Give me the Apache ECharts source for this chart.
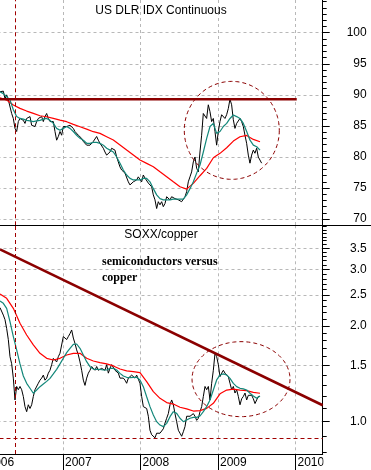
<!DOCTYPE html>
<html><head><meta charset="utf-8">
<script src="https://cdn.jsdelivr.net/npm/echarts@6/dist/echarts.min.js"></script>
<style>html,body{margin:0;padding:0;background:#fff}#c{width:371px;height:470px}</style>
</head><body><div id="c"></div>
<script>
// ---- time frame (decimal years) ----
const axisStart = 2006.0;
const axisEnd = 2010.351;
const dataStart = 2006.187;     // first session shown (early March 2006)
const usdLast = 2009.563;       // last dollar session
const seriesLast = 2009.542;    // last session for the other lines
const years = [2006, 2007, 2008, 2009, 2010];
const usdTicks = [70, 75, 80, 85, 90, 95, 100];
const ratioTicks = [1.0, 1.5, 2.0, 2.5, 3.0, 3.5];

// ---- US dollar index (daily close, sampled) ----
const usdClose = [90.5,90.2,90.6,89.4,90.0,89.2,88.9,87.0,86.2,84.6,
 84.1,85.7,86.2,86.5,85.9,85.4,86.2,85.9,86.5,85.1,
 85.4,84.9,85.7,86.2,85.9,86.5,85.7,86.5,87.0,86.2,
 85.7,85.4,85.7,84.1,82.7,83.3,84.1,83.5,84.9,85.1,
 84.9,84.6,85.1,84.9,84.6,84.1,83.8,83.5,83.3,83.0,
 82.5,82.7,81.9,81.7,81.9,82.2,82.5,82.7,83.3,82.7,
 82.2,81.9,81.4,80.8,80.3,80.6,80.8,81.4,81.7,81.1,
 80.0,79.2,78.4,77.9,78.2,77.4,77.1,76.0,75.5,75.2,
 76.0,76.3,76.3,76.8,76.6,76.0,77.1,76.6,76.8,75.8,
 75.5,75.2,73.9,73.1,71.7,72.8,72.3,72.8,72.0,72.5,
 73.6,73.3,73.1,73.6,73.9,73.3,73.6,73.1,73.3,72.8,
 73.1,73.6,74.4,76.0,76.8,77.6,79.2,80.0,78.2,77.6,
 80.8,83.5,87.0,86.8,86.2,88.4,87.3,85.7,86.2,84.1,
 81.9,84.1,85.7,86.8,86.5,86.2,86.8,87.8,89.3,88.4,
 86.0,84.6,85.4,85.7,86.2,85.7,84.9,83.5,82.2,80.3,
 79.0,80.3,81.1,80.6,81.4,80.0,79.8,79.0];
const usdMAshort = [90.5,90.2,89.7,89.2,87.6,86.5,86.2,86.1,85.9,85.8,
 85.7,85.8,85.9,86.1,86.2,85.9,85.4,84.6,84.3,84.6,
 84.9,84.6,84.1,83.5,83.0,82.7,82.2,82.2,82.35,82.35,
 82.2,81.9,81.4,81.1,80.8,80.0,79.0,77.9,77.1,76.55,
 76.3,76.3,76.3,76.55,76.55,76.0,74.9,73.9,73.3,73.1,
 73.1,73.1,73.2,73.2,73.2,73.2,73.9,74.9,76.0,77.4,
 78.7,80.8,83.0,84.9,85.4,83.8,84.1,84.9,85.4,86.2,
 86.75,86.5,86.2,85.4,84.1,82.7,81.9,81.65,81.1];
const usdMAlong = [89.54,89.16,88.36,87.82,87.39,87.02,86.64,86.48,86.21,85.94,
 85.68,85.25,84.87,84.49,84.07,83.80,83.26,82.72,81.92,81.11,
 80.31,79.50,78.97,78.43,77.62,76.82,76.01,75.21,74.83,75.75,
 76.98,78.16,79.88,80.58,81.49,82.56,83.26,83.47,82.83,82.45];
const usdResistance = 89.3;
const resistanceEnd = 2010.016;

// ---- SOXX / copper ratio ----
const soxxCopper = [2.28,2.27,2.16,2.09,1.96,1.81,1.60,1.52,1.37,1.17,
 1.29,1.26,1.29,1.26,1.20,1.115,1.075,1.13,1.10,1.13,
 1.20,1.26,1.26,1.32,1.35,1.37,1.40,1.35,1.37,1.42,
 1.45,1.51,1.58,1.56,1.54,1.60,1.64,1.64,1.85,1.87,
 1.81,1.85,1.89,1.94,1.83,1.76,1.68,1.62,1.54,1.45,
 1.35,1.30,1.37,1.42,1.45,1.49,1.47,1.45,1.49,1.45,
 1.47,1.47,1.49,1.45,1.51,1.42,1.47,1.51,1.52,1.45,
 1.47,1.42,1.37,1.385,1.37,1.35,1.32,1.37,1.385,1.40,
 1.385,1.37,1.40,1.42,1.32,1.20,1.115,1.13,1.10,1.04,
 0.94,0.91,0.90,0.89,0.92,0.91,0.92,0.93,0.95,0.99,
 1.025,1.06,1.13,1.17,1.13,1.06,1.00,0.94,0.92,0.90,
 0.93,0.965,1.04,1.05,1.04,1.04,1.06,1.04,1.01,1.025,
 1.075,1.115,1.20,1.29,1.26,1.29,1.17,1.32,1.45,1.64,
 1.60,1.51,1.385,1.42,1.45,1.42,1.435,1.385,1.32,1.26,
 1.29,1.23,1.26,1.20,1.13,1.18,1.20,1.23,1.17,1.21,
 1.20,1.21,1.18,1.14,1.17,1.20,1.20];
const soxxMAshort = [2.392,2.352,2.268,2.06,1.849,1.679,1.518,1.391,1.319,1.273,
 1.228,1.257,1.288,1.313,1.338,1.368,1.412,1.460,1.518,1.581,
 1.647,1.699,1.749,1.753,1.699,1.619,1.543,1.488,1.463,1.460,
 1.460,1.453,1.453,1.470,1.470,1.453,1.418,1.391,1.378,1.375,
 1.378,1.378,1.352,1.288,1.198,1.115,1.050,1.000,0.976,0.965,
 0.988,1.037,1.075,1.062,1.025,1.000,1.012,1.025,1.032,1.032,
 1.042,1.075,1.115,1.170,1.257,1.352,1.401,1.412,1.401,1.368,
 1.319,1.288,1.273,1.268,1.257,1.228,1.204,1.184,1.204];
const soxxMAlong = [2.516,2.439,2.268,2.036,1.871,1.741,1.639,1.581,1.562,1.581,
 1.619,1.639,1.639,1.581,1.550,1.532,1.518,1.496,1.463,1.443,
 1.435,1.425,1.335,1.242,1.184,1.148,1.136,1.110,1.097,1.080,
 1.083,1.101,1.142,1.223,1.257,1.265,1.257,1.251,1.236,1.228];
const trendFrom = 3.475, trendTo = 1.126;
const ratioSupport = 0.887;
const markerDate = 2006.385;

// annotation ellipses (data-space bounds)
const usdCircle = {x0: 2008.565, x1: 2009.791, lo: 76.4, hi: 92.17};
const ratioCircle = {x0: 2008.665, x1: 2009.929, lo: 1.037, hi: 1.783};

// ---- helpers ----
function spread(values, x0, x1) {
  const n = values.length;
  return values.map((v, i) => [x0 + (x1 - x0) * i / (n - 1), v]);
}
const usdMinor = []; for (let v = 69; v <= 105; v++) usdMinor.push(v);
const ratioMinor = []; for (let k = 8; k <= 41; k++) ratioMinor.push(k / 10);

const FONT = 'Liberation Sans';
const gridLine = {show: true, lineStyle: {color: '#b8b8b8', type: [3, 3], width: 1}};
const axisBlack = {show: true, lineStyle: {color: '#000', width: 1}};
const DARK = '#8b0000';
const DASHRED = '#a00000';
const TEAL = '#13877a';

const chart = echarts.init(document.getElementById('c'), null, {renderer: 'canvas'});

function lineSeries(name, data, xi, yi, color, width, z, extra) {
  return Object.assign({
    name, type: 'line', data, xAxisIndex: xi, yAxisIndex: yi, showSymbol: false, symbol: 'none',
    lineStyle: {color, width}, itemStyle: {color}, z, silent: true, animation: false
  }, extra || {});
}
const markStyle = {color: DASHRED, type: [4, 3], width: 1, opacity: 1};

const option = {
  animation: false,
  backgroundColor: '#fff',
  grid: [
    {left: -14.5, right: 48.3, top: 0, height: 225.3, outerBoundsMode: 'none', containLabel: false},
    {left: -14.5, right: 48.3, top: 225.3, height: 228.7, outerBoundsMode: 'none', containLabel: false}
  ],
  xAxis: [
    {gridIndex: 0, type: 'value', min: axisStart, max: axisEnd,
     axisLine: {show: false}, axisTick: {show: false, customValues: years},
     axisLabel: {show: false, customValues: years}, splitLine: gridLine},
    {gridIndex: 1, type: 'value', min: axisStart, max: axisEnd,
     axisLine: axisBlack,
     axisTick: {show: true, length: 16, customValues: years, lineStyle: {color: '#000', width: 1}},
     axisLabel: {customValues: years, align: 'left', margin: 3, padding: [0, 0, 0, 2],
       color: '#000', fontSize: 12, fontFamily: FONT, formatter: v => String(Math.round(v))},
     splitLine: gridLine}
  ],
  yAxis: [
    {gridIndex: 0, type: 'value', position: 'right', min: 69, max: 105.27, splitNumber: 7,
     axisLine: axisBlack,
     axisTick: {show: true, length: 7, customValues: usdTicks, lineStyle: {color: '#000'}},
     axisLabel: {customValues: usdTicks, align: 'right', margin: 44, color: '#000',
       fontSize: 12, fontFamily: FONT, formatter: v => String(Math.round(v))},
     splitLine: gridLine},
    {gridIndex: 0, type: 'value', position: 'right', min: 69, max: 105.27,
     axisLine: axisBlack,
     axisTick: {show: true, length: 4, customValues: usdMinor, lineStyle: {color: '#000'}},
     axisLabel: {show: false}, splitLine: {show: false}},
    {gridIndex: 1, type: 'log', logBase: 10, position: 'right', min: 0.7918, max: 4.133,
     axisLine: axisBlack,
     axisTick: {show: true, length: 7, customValues: ratioTicks, lineStyle: {color: '#000'}},
     axisLabel: {customValues: ratioTicks, align: 'right', margin: 44, color: '#000',
       fontSize: 12, fontFamily: FONT, formatter: v => Number(v).toFixed(1)},
     splitLine: gridLine},
    {gridIndex: 1, type: 'log', logBase: 10, position: 'right', min: 0.7918, max: 4.133,
     axisLine: axisBlack,
     axisTick: {show: true, length: 4, customValues: ratioMinor, lineStyle: {color: '#000'}},
     axisLabel: {show: false}, splitLine: {show: false}}
  ],
  series: [
    lineSeries('US DLR IDX', spread(usdClose, dataStart, usdLast), 0, 0, '#000', 1, 3, {
      markLine: {symbol: 'none', silent: true, label: {show: false}, lineStyle: markStyle,
        emphasis: {disabled: true}, animation: false, z: 7, data: [{xAxis: markerDate}]}
    }),
    lineSeries('MA long', spread(usdMAlong, dataStart, seriesLast), 0, 0, '#ff0000', 1.2, 4),
    lineSeries('MA short', spread(usdMAshort, dataStart, seriesLast), 0, 0, TEAL, 1.2, 5),
    lineSeries('resistance', [[dataStart, usdResistance], [resistanceEnd, usdResistance]], 0, 0, DARK, 2.6, 6),

    lineSeries('SOXX/copper', spread(soxxCopper, dataStart, seriesLast), 1, 2, '#000', 1, 3, {
      markLine: {symbol: 'none', silent: true, label: {show: false}, lineStyle: markStyle,
        emphasis: {disabled: true}, animation: false, z: 7,
        data: [{xAxis: markerDate}, {yAxis: ratioSupport}]}
    }),
    lineSeries('ratio MA long', spread(soxxMAlong, dataStart, seriesLast), 1, 2, '#ff0000', 1.2, 4),
    lineSeries('ratio MA short', spread(soxxMAshort, dataStart, seriesLast), 1, 2, TEAL, 1.2, 5),
    lineSeries('trend', [[dataStart, trendFrom], [axisEnd, trendTo]], 1, 2, DARK, 2.6, 6)
  ]
};
chart.setOption(option);

function ellipse(seriesIndex, b) {
  const a = chart.convertToPixel({seriesIndex}, [b.x0, b.hi]);
  const c = chart.convertToPixel({seriesIndex}, [b.x1, b.lo]);
  const cx = (a[0] + c[0]) / 2, cy = (a[1] + c[1]) / 2;
  const rx = Math.abs(c[0] - a[0]) / 2, ry = Math.abs(c[1] - a[1]) / 2;
  const pts = [];
  for (let k = 0; k < 120; k++) {
    const t = k / 120 * 2 * Math.PI;
    pts.push([cx + rx * Math.cos(t), cy + ry * Math.sin(t)]);
  }
  return {type: 'polygon', shape: {points: pts}, silent: true, z: 50,
    style: {fill: 'none', stroke: DARK, lineWidth: 1, lineDash: [4, 3]}};
}
function label(text, x, y, font, align) {
  return {type: 'text', x, y, silent: true, z: 100,
    style: {text, font, fill: '#000', align: align, textAlign: align,
      verticalAlign: 'middle', textVerticalAlign: 'middle'}};
}

chart.setOption({
  graphic: [
    ellipse(0, usdCircle),
    ellipse(4, ratioCircle),
    {type: 'line', silent: true, z: 60, shape: {x1: 0, y1: 225.5, x2: 371, y2: 225.5},
     style: {stroke: '#000', lineWidth: 1}},
    {type: 'rect', silent: true, z: 90, shape: {x: 323.5, y: 455, width: 48, height: 15},
     style: {fill: '#fff'}},
    label('US DLR IDX Continuous', 161, 11, '12px "Liberation Sans"', 'center'),
    label('SOXX/copper', 161, 235, '12px "Liberation Sans"', 'center'),
    label('semiconductors versus', 102, 262, 'bold 12px "Liberation Serif"', 'left'),
    label('copper', 102, 277.5, 'bold 12px "Liberation Serif"', 'left')
  ]
});
</script>
</body></html>
